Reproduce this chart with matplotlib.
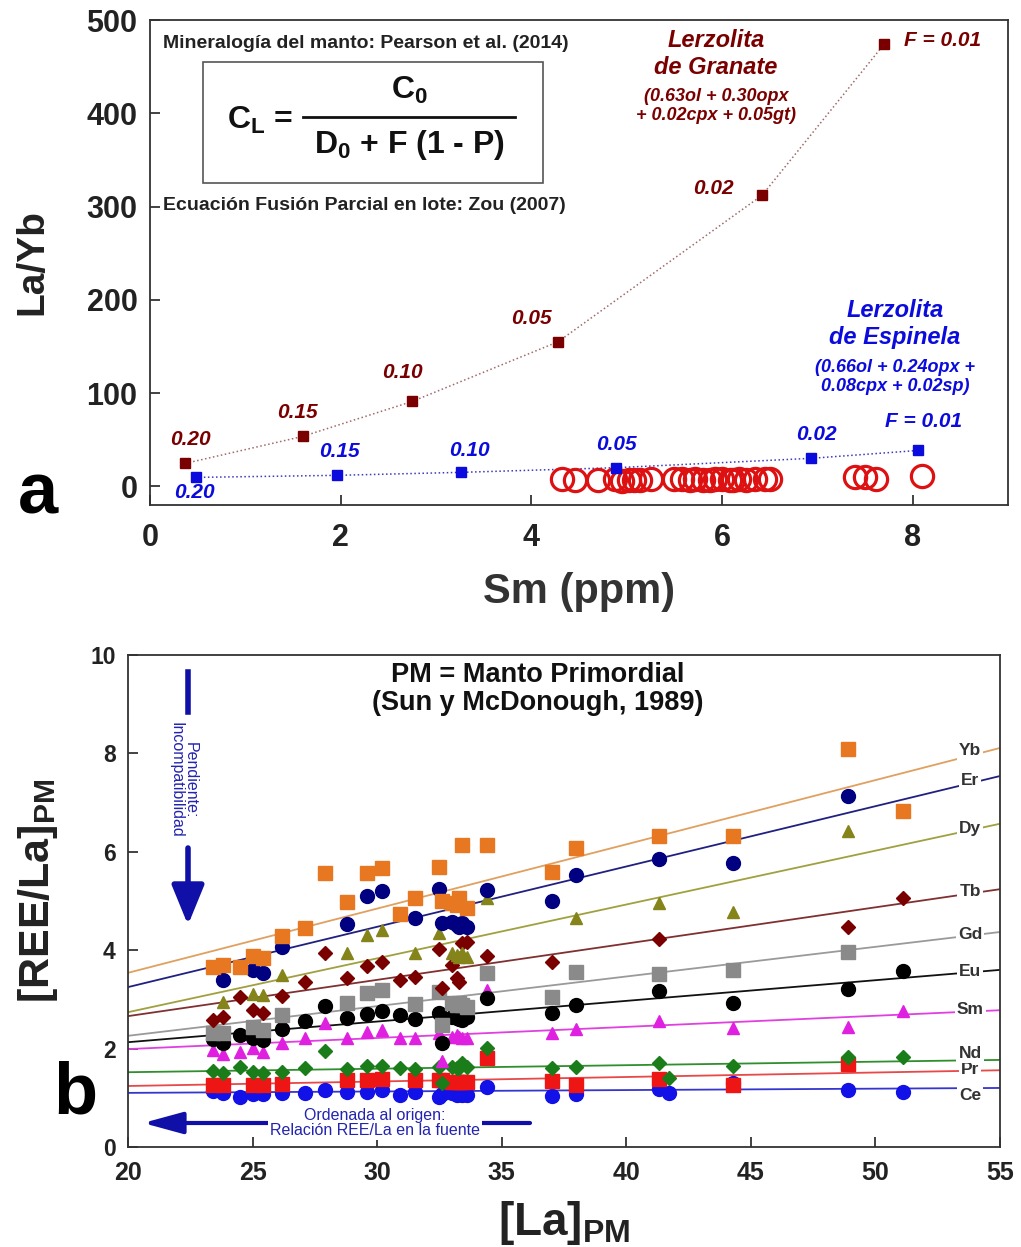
import numpy as np
import matplotlib.pyplot as plt
from matplotlib.patches import Rectangle
from matplotlib.lines import Line2D

plt.rcParams['font.family'] = ['Liberation Sans', 'DejaVu Sans']
plt.rcParams['mathtext.fontset'] = 'custom'
plt.rcParams['mathtext.rm'] = 'Liberation Sans'
plt.rcParams['mathtext.bf'] = 'Liberation Sans:bold'
plt.rcParams['mathtext.it'] = 'Liberation Sans:italic'

# ---------------- panel a: batch melting curves ----------------
F_labels = ['0.20', '0.15', '0.10', '0.05', '0.02', 'F = 0.01']
grt_sm = [0.37, 1.60, 2.75, 4.28, 6.42, 7.70]
grt_layb = [24.6, 53.5, 91, 155, 312, 474]
spl_sm = [0.48, 1.96, 3.26, 4.89, 6.93, 8.06]
spl_layb = [9.6, 11.8, 15, 20, 30, 38.5]

# basalt samples
samp_sm = [4.32, 4.46, 4.70, 4.88, 4.95, 5.02, 5.08, 5.14, 5.25, 5.50, 5.58, 5.66,
           5.72, 5.80, 5.87, 5.93, 6.00, 6.08, 6.12, 6.18, 6.25, 6.35, 6.45, 6.50,
           7.40, 7.50, 7.62, 8.10]
samp_layb = [7.5, 7.0, 6.5, 7.5, 6.0, 7.0, 6.5, 7.0, 7.5, 7.5, 8.0, 7.0,
             7.5, 6.5, 7.0, 8.0, 7.5, 7.0, 6.5, 7.5, 7.0, 7.5, 8.0, 8.0,
             9.5, 10.5, 8.0, 11.0]

# label offsets (points) for the F values
grt_off = [(4, 17), (-4, 17), (-7, 21), (-19, 17), (-35, 5), (14, 3)]
spl_off = [(-1, -11), (2, 17), (6, 16), (0, 17), (4, 17), (4, 21)]

# ---------------- panel b: REE/La vs La ----------------
la_pm = [23.4, 23.8, 24.5, 25.0, 25.4, 26.2, 27.1, 27.9, 28.8, 29.6, 30.2, 30.9,
         31.5, 32.5, 32.6, 33.0, 33.2, 33.3, 33.4, 33.6, 34.4, 37.0, 38.0, 41.3,
         41.7, 44.3, 48.9, 51.1]
nan = np.nan
yb = [3.66, 3.70, 3.66, 3.88, 3.84, 4.29, 4.45, 5.57, 4.98, 5.57, 5.67, 4.74,
      5.06, 5.69, 5.00, 4.96, 4.92, 5.06, 6.14, 4.86, 6.14, 5.59, 6.08, 6.32,
      nan, 6.32, 8.09, 6.83]
er = [nan, 3.39, nan, 3.60, 3.54, 4.07, nan, nan, 4.53, 5.10, 5.20, nan,
      4.65, 5.24, 4.55, 4.57, 4.51, 4.47, 4.55, 4.47, 5.22, 5.00, 5.53, 5.85,
      nan, 5.77, 7.13, nan]
dy = [nan, 2.95, nan, 3.11, 3.09, 3.50, nan, nan, 3.94, 4.31, 4.41, nan,
      3.94, 4.35, nan, 3.94, 3.90, 3.86, 3.94, 3.86, 5.06, nan, 4.65, 4.96,
      nan, 4.78, 6.42, nan]
tb = [2.58, 2.64, 3.05, 2.78, 2.72, 3.07, 3.35, 3.94, 3.43, 3.68, 3.76, 3.39,
      3.45, 4.02, 3.23, 3.70, 3.43, 3.35, 4.15, 4.17, 3.88, 3.76, nan, 4.23,
      nan, nan, 4.47, 5.06]
gd = [2.32, 2.32, nan, 2.44, 2.38, 2.68, nan, nan, 2.92, 3.13, 3.19, nan,
      2.90, 3.15, 2.48, 2.93, 2.89, 2.93, 2.89, 2.85, 3.54, 3.05, 3.56, 3.52,
      nan, 3.60, 3.96, nan]
eu = [2.20, 2.12, 2.28, 2.22, 2.17, 2.40, 2.56, 2.87, 2.62, 2.70, 2.76, 2.68,
      2.60, 2.72, 2.11, 2.64, 2.62, 2.60, 2.58, 2.64, 3.03, 2.72, 2.89, 3.17,
      nan, 2.93, 3.21, 3.58]
sm = [1.97, 1.89, 1.93, 2.01, 1.93, 2.11, 2.22, 2.52, 2.22, 2.34, 2.38, 2.22,
      2.22, 2.32, 1.75, 2.24, 2.28, 2.24, 2.22, 2.22, 3.19, 2.32, 2.40, 2.56,
      nan, 2.42, 2.44, 2.76]
nd = [1.55, 1.51, 1.63, 1.52, 1.50, 1.52, 1.61, 1.95, 1.58, 1.65, 1.65, 1.61,
      1.58, 1.62, 1.30, 1.63, 1.61, 1.61, 1.71, 1.63, 2.01, 1.61, 1.63, 1.71,
      1.40, 1.65, 1.83, 1.83]
pr = [1.26, 1.26, nan, 1.26, 1.26, 1.28, nan, nan, 1.36, 1.36, 1.38, nan,
      1.36, 1.36, 1.36, 1.32, 1.32, 1.32, 1.32, 1.32, 1.81, 1.34, 1.26, 1.38,
      nan, 1.26, 1.69, nan]
ce = [1.14, 1.10, 1.02, 1.08, 1.08, 1.10, 1.10, 1.16, 1.12, 1.12, 1.16, 1.06,
      1.12, 1.02, 1.08, 1.10, 1.06, 1.08, 1.06, 1.06, 1.22, 1.04, 1.08, 1.18,
      1.10, 1.30, 1.16, 1.12]

ree_names = ['Ce', 'Pr', 'Nd', 'Sm', 'Eu', 'Gd', 'Tb', 'Dy', 'Er', 'Yb']
ree_vals = [ce, pr, nd, sm, eu, gd, tb, dy, er, yb]
# trend lines: value at La = 20 and at La = 55
trend_left = [1.10, 1.24, 1.52, 1.99, 2.13, 2.26, 2.66, 2.74, 3.25, 3.54]
trend_right = [1.20, 1.56, 1.77, 2.78, 3.60, 4.37, 5.24, 6.57, 7.54, 8.11]
label_y = [1.04, 1.57, 1.91, 2.79, 3.56, 4.31, 5.20, 6.48, 7.44, 8.05]

mk_colors = ['#1111e8', '#ee1515', '#1a7d1a', '#e020e0', '#000000', '#8a8a8a',
             '#7a0000', '#84841a', '#000080', '#e87722']
ln_colors = ['#3535d0', '#e84848', '#2f8f2f', '#e040e0', '#111111', '#9a9a9a',
             '#803030', '#a0a040', '#202080', '#e0a060']
markers = ['o', 's', 'D', '^', 'o', 's', 'D', '^', 'o', 's']
msizes = [10, 10, 7.5, 9, 10, 10, 7.5, 9, 10, 10.5]

W, H = 1021, 1247
fig = plt.figure(figsize=(W / 100, H / 100), dpi=100)

# ================= panel a =================
ax1 = fig.add_axes([150 / W, 1 - 505 / H, 858 / W, 485 / H])
ax1.plot(grt_sm, grt_layb, ls=':', color='#a06a6a', lw=1.1, zorder=2)
ax1.plot(spl_sm, spl_layb, ls=':', color='#3a3ac0', lw=1.1, zorder=2)
ax1.plot(samp_sm, samp_layb, 'o', ms=16, mfc='none', mec='#dd1111', mew=2.3, zorder=3)
ax1.plot(grt_sm, grt_layb, 's', ms=7, color='#7a0000', zorder=4)
ax1.plot(spl_sm, spl_layb, 's', ms=7, color='#0b0bdd', zorder=4)

for i, lab in enumerate(F_labels):
    ax1.annotate(lab, (grt_sm[i], grt_layb[i]), xytext=grt_off[i], textcoords='offset points',
                 ha='left' if i == 5 else 'center', va='center', fontsize=15,
                 fontweight='bold', fontstyle='italic', color='#7a0000')
    ax1.annotate(lab, (spl_sm[i], spl_layb[i]), xytext=spl_off[i], textcoords='offset points',
                 ha='center', va='center', fontsize=15,
                 fontweight='bold', fontstyle='italic', color='#0b0bdd')

ax1.set_xlim(0, 9)
ax1.set_ylim(-20, 500)
ax1.set_xticks([0, 2, 4, 6, 8])
ax1.set_yticks([0, 100, 200, 300, 400, 500])
ax1.tick_params(direction='in', length=7, width=1.2, labelsize=22, colors='#222222')
ax1.tick_params(axis='x', pad=13)
ax1.tick_params(axis='y', pad=9)
for t in ax1.get_xticklabels() + ax1.get_yticklabels():
    t.set_fontweight('bold')
for s in ax1.spines.values():
    s.set_linewidth(1.3)
    s.set_color('#333333')
ax1.set_xlabel('Sm (ppm)', fontsize=30, fontweight='bold', color='#333333', labelpad=14)
ax1.set_ylabel('La/Yb', fontsize=28, fontweight='bold', color='#222222', labelpad=26)

def fa(px, py):
    return ((px - 150) / 858, (505 - py) / 485)

ax1.text(*fa(163, 43), 'Mineralogía del manto: Pearson et al. (2014)', transform=ax1.transAxes,
         ha='left', va='center', fontsize=14, fontweight='bold', color='#222222')
ax1.text(*fa(163, 205), 'Ecuación Fusión Parcial en lote: Zou (2007)', transform=ax1.transAxes,
         ha='left', va='center', fontsize=14, fontweight='bold', color='#222222')
x0, y0 = fa(203, 183)
x1, y1 = fa(543, 62)
ax1.add_patch(Rectangle((x0, y0), x1 - x0, y1 - y0, transform=ax1.transAxes,
                        fill=False, ec='#555555', lw=1.2))
ax1.text(*fa(260, 120), r'C$_\mathbf{L}$ =', transform=ax1.transAxes, ha='center', va='center',
         fontsize=23, fontweight='bold', color='#111111')
ax1.text(*fa(409, 90), r'C$_\mathbf{0}$', transform=ax1.transAxes, ha='center', va='center',
         fontsize=23, fontweight='bold', color='#111111')
ax1.text(*fa(409, 145), r'D$_\mathbf{0}$ + F (1 - P)', transform=ax1.transAxes, ha='center',
         va='center', fontsize=23, fontweight='bold', color='#111111')
lx0, ly = fa(303, 117)
lx1, _ = fa(515, 117)
ax1.add_line(Line2D([lx0, lx1], [ly, ly], transform=ax1.transAxes, color='#111111', lw=2))

ax1.text(*fa(716, 54), 'Lerzolita\nde Granate', transform=ax1.transAxes, ha='center', va='center',
         fontsize=17, fontweight='bold', fontstyle='italic', color='#7a0000', linespacing=1.25)
ax1.text(*fa(716, 106), '(0.63ol + 0.30opx\n+ 0.02cpx + 0.05gt)', transform=ax1.transAxes,
         ha='center', va='center', fontsize=13, fontweight='bold', fontstyle='italic',
         color='#7a0000', linespacing=1.2)
ax1.text(*fa(895, 324), 'Lerzolita\nde Espinela', transform=ax1.transAxes, ha='center', va='center',
         fontsize=17, fontweight='bold', fontstyle='italic', color='#0b0bdd', linespacing=1.25)
ax1.text(*fa(895, 377), '(0.66ol + 0.24opx +\n0.08cpx + 0.02sp)', transform=ax1.transAxes,
         ha='center', va='center', fontsize=13, fontweight='bold', fontstyle='italic',
         color='#0b0bdd', linespacing=1.2)

# ================= panel b =================
ax2 = fig.add_axes([128 / W, 1 - 1147 / H, 872 / W, 492 / H])
x_edges = np.array([20, 55])
for i in range(len(ree_names)):
    ax2.plot(x_edges, [trend_left[i], trend_right[i]], color=ln_colors[i], lw=1.3, zorder=2)
for i in range(len(ree_names)):
    ax2.plot(la_pm, ree_vals[i], ls='none', marker=markers[i], ms=msizes[i],
             color=mk_colors[i], mec=mk_colors[i], zorder=3)
    ax2.text(53.8, label_y[i], ree_names[i], ha='center', va='center', fontsize=12.5,
             fontweight='bold', color='#333333', zorder=5,
             bbox=dict(boxstyle='square,pad=0.12', fc='white', ec='none'))

ax2.set_xlim(20, 55)
ax2.set_ylim(0, 10)
ax2.set_xticks(np.arange(20, 56, 5))
ax2.set_yticks(np.arange(0, 11, 2))
ax2.tick_params(direction='in', length=7, width=1.2, colors='#222222')
ax2.tick_params(axis='x', labelsize=18, pad=10)
ax2.tick_params(axis='y', labelsize=16.5, pad=9)
for t in ax2.get_xticklabels() + ax2.get_yticklabels():
    t.set_fontweight('bold')
for s in ax2.spines.values():
    s.set_linewidth(1.3)
    s.set_color('#333333')
ax2.set_xlabel(r'[La]$_\mathbf{PM}$', fontsize=33, fontweight='bold', color='#222222', labelpad=10)
ax2.set_ylabel(r'[REE/La]$_\mathbf{PM}$', fontsize=31, fontweight='bold', color='#222222')
ax2.yaxis.set_label_coords(-0.078, 0.522)

def fb(px, py):
    return ((px - 128) / 872, (1147 - py) / 492)

ax2.text(*fb(538, 689), 'PM = Manto Primordial\n(Sun y McDonough, 1989)', transform=ax2.transAxes,
         ha='center', va='center', fontsize=19.5, fontweight='bold', color='#111111',
         linespacing=1.1)

arrow_col = '#1010a8'
ax2.add_line(Line2D([fb(188, 672)[0]] * 2, [fb(188, 672)[1], fb(188, 712)[1]],
                    transform=ax2.transAxes, color=arrow_col, lw=4))
ax2.annotate('', xy=fb(188, 925), xytext=fb(188, 848), xycoords='axes fraction',
             textcoords='axes fraction',
             arrowprops=dict(arrowstyle='-|>,head_length=1.1,head_width=0.45',
                             color=arrow_col, lw=4, mutation_scale=22, shrinkA=0, shrinkB=0))
ax2.text(*fb(183, 780), 'Pendiente:\nIncompatibilidad', transform=ax2.transAxes, rotation=270,
         ha='center', va='center', fontsize=11.5, color='#2323b0', linespacing=1.0)

ax2.annotate('', xy=fb(143, 1123), xytext=fb(530, 1123), xycoords='axes fraction',
             textcoords='axes fraction',
             arrowprops=dict(arrowstyle='-|>,head_length=1.1,head_width=0.3',
                             color=arrow_col, lw=3, mutation_scale=22, shrinkA=0, shrinkB=0))
ax2.text(*fb(375, 1123), 'Ordenada al origen:\nRelación REE/La en la fuente', transform=ax2.transAxes,
         ha='center', va='center', fontsize=11.5, color='#2323b0', linespacing=1.0,
         bbox=dict(boxstyle='square,pad=0.1', fc='white', ec='none'))

# panel letters
fig.text(38 / W, 1 - 494 / H, 'a', ha='center', va='center', fontsize=52, fontweight='bold')
fig.text(75 / W, 1 - 1094 / H, 'b', ha='center', va='center', fontsize=52, fontweight='bold')

fig.savefig('out.png', dpi=100, facecolor='white')
